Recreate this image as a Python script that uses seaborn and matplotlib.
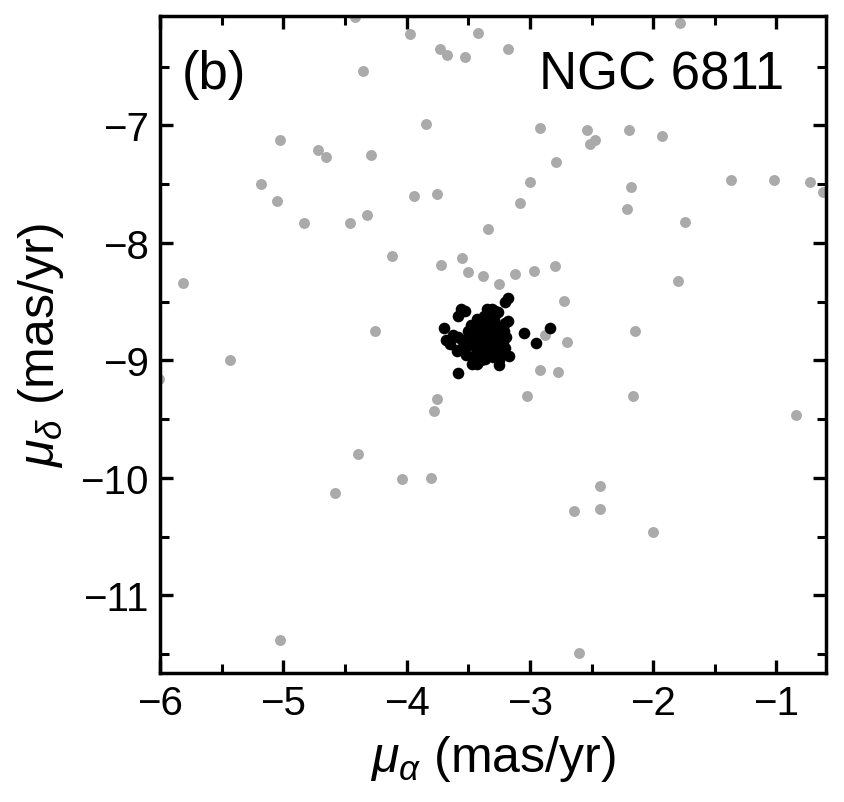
import numpy as np
import pandas as pd
import matplotlib
matplotlib.use("Agg")
import matplotlib.pyplot as plt
from matplotlib.ticker import MultipleLocator
import seaborn as sns

# field stars (gray)
field_pmra = [-4.42, -3.97, -3.42, -3.73, -3.67, -3.53, -4.35, -3.18, -1.78, -3.84,
              -5.03, -4.72, -4.65, -4.29, -5.18, -5.05, -3.94, -3.75, -4.83, -4.46,
              -4.32, -3.34, -2.92, -2.54, -2.47, -2.51, -2.20, -1.93, -2.79, -3.00,
              -3.08, -2.18, -2.21, -1.74, -1.37, -1.02, -0.73, -0.62, -4.12, -3.72,
              -3.55, -3.50, -3.38, -3.25, -3.12, -2.97, -2.80, -1.80, -2.72, -5.81,
              -4.26, -5.43, -6.01, -2.15, -2.88, -2.70, -2.92, -2.77, -3.02, -2.16,
              -0.84, -3.75, -3.78, -4.39, -4.04, -3.80, -4.58, -2.43, -2.64, -2.43,
              -2.00, -5.03, -2.60]
field_pmdec = [-6.08, -6.22, -6.21, -6.35, -6.40, -6.42, -6.54, -6.35, -6.13, -6.99,
               -7.12, -7.21, -7.27, -7.25, -7.50, -7.64, -7.60, -7.58, -7.83, -7.83,
               -7.76, -7.88, -7.02, -7.04, -7.12, -7.16, -7.04, -7.09, -7.31, -7.48,
               -7.66, -7.52, -7.71, -7.82, -7.46, -7.46, -7.48, -7.57, -8.11, -8.19,
               -8.13, -8.25, -8.28, -8.35, -8.26, -8.24, -8.20, -8.32, -8.49, -8.34,
               -8.75, -9.00, -9.16, -8.75, -8.78, -8.84, -9.08, -9.10, -9.30, -9.30,
               -9.46, -9.33, -9.43, -9.80, -10.01, -10.00, -10.13, -10.07, -10.28, -10.26,
               -10.46, -11.38, -11.49]

# cluster members (black)
memb_pmra = [-3.18, -3.20, -3.56, -3.53, -3.58, -3.35, -3.31, -3.26, -3.18, -3.70,
             -3.68, -3.58, -3.65, -3.58, -3.50, -3.46, -3.44, -3.42, -3.38, -3.34,
             -3.40, -3.36, -3.32, -3.26, -3.21, -3.42, -3.36, -3.32, -3.26, -3.26,
             -3.42, -3.36, -3.47, -3.43, -3.25, -3.25, -3.17, -3.05, -2.95, -2.84,
             -3.58, -3.20, -3.43, -3.59, -3.40, -3.20, -3.38, -3.30, -3.35, -3.28,
             -3.44, -3.30, -3.40, -3.33, -3.24, -3.48, -3.37, -3.29, -3.52, -3.55,
             -3.22, -3.30, -3.45, -3.49, -3.39, -3.31, -3.27, -3.34, -3.41, -3.23,
             -3.46, -3.36, -3.28, -3.51, -3.62, -3.19]
memb_pmdec = [-8.47, -8.50, -8.56, -8.58, -8.62, -8.56, -8.56, -8.59, -8.66, -8.72,
              -8.83, -8.80, -8.86, -8.91, -8.75, -8.86, -8.94, -8.66, -8.69, -8.72,
              -8.78, -8.80, -8.76, -8.72, -8.75, -8.86, -8.89, -8.86, -8.83, -8.90,
              -8.97, -8.99, -9.03, -9.03, -9.00, -9.04, -8.96, -8.77, -8.85, -8.72,
              -9.11, -8.68, -8.65, -8.92, -9.00, -8.89, -8.74, -8.80, -8.84, -8.68,
              -8.80, -8.93, -8.92, -8.70, -8.78, -8.70, -8.62, -8.64, -8.95, -8.83,
              -8.84, -8.97, -8.76, -8.82, -8.83, -8.74, -8.81, -8.94, -8.71, -8.92,
              -8.98, -8.67, -8.58, -8.88, -8.78, -8.80]

sns.set_style("ticks")
plt.rcParams["font.family"] = ["Liberation Sans", "DejaVu Sans"]
plt.rcParams["mathtext.fontset"] = "custom"
plt.rcParams["mathtext.it"] = "Liberation Sans:italic"
plt.rcParams["mathtext.rm"] = "Liberation Sans"
for key in ["text.color", "axes.labelcolor", "xtick.color", "ytick.color", "axes.edgecolor"]:
    plt.rcParams[key] = "black"

field = pd.DataFrame({"pmra": field_pmra, "pmdec": field_pmdec})
memb = pd.DataFrame({"pmra": memb_pmra, "pmdec": memb_pmdec})

fig = plt.figure(figsize=(8.45, 8.03), dpi=100)
ax = fig.add_axes([0.1893, 0.1606, 0.788, 0.818])

sns.scatterplot(data=field, x="pmra", y="pmdec", color="#aaaaaa", s=62,
                linewidth=0, ax=ax, zorder=2)
sns.scatterplot(data=memb, x="pmra", y="pmdec", color="black", s=70,
                linewidth=0, ax=ax, zorder=3)

ax.set_xlim(-6.0, -0.6)
ax.set_ylim(-11.66, -6.07)
ax.xaxis.set_major_locator(MultipleLocator(1))
ax.xaxis.set_minor_locator(MultipleLocator(0.5))
ax.yaxis.set_major_locator(MultipleLocator(1))
ax.yaxis.set_minor_locator(MultipleLocator(0.5))

ax.tick_params(which="both", direction="in", top=True, right=True,
               labelsize=29, pad=8)
ax.tick_params(which="major", length=9.5, width=2.4)
ax.tick_params(which="minor", length=6.5, width=2.2)
for sp in ax.spines.values():
    sp.set_linewidth(2.5)

ax.set_xlabel(r"$\mu_{\alpha}$ (mas/yr)", fontsize=36, labelpad=8)
ax.set_ylabel(r"$\mu_{\delta}$ (mas/yr)", fontsize=36, labelpad=10)

ax.text(0.033, 0.890, "(b)", transform=ax.transAxes, fontsize=38, va="baseline")
ax.text(0.938, 0.890, "NGC 6811", transform=ax.transAxes, fontsize=38,
        va="baseline", ha="right")

fig.savefig("out.png", dpi=100)
